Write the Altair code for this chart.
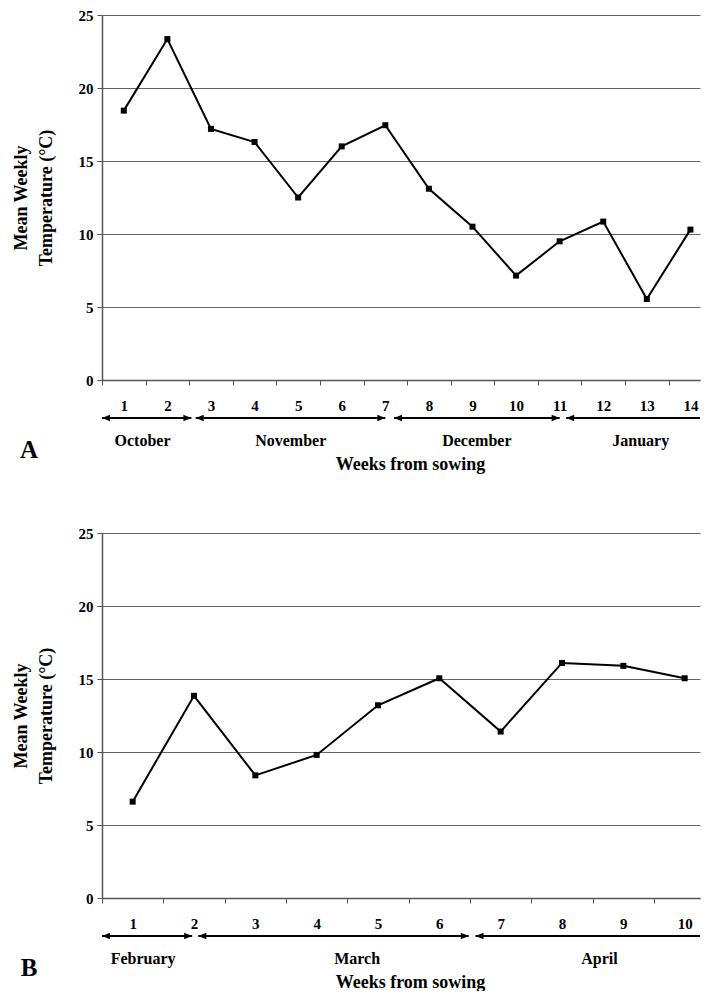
import altair as alt
import pandas as pd

# ---------------- data ----------------
# Panel A: weekly mean temperature, October - January
weeks_a = list(range(1, 15))
temps_a = [18.45, 23.35, 17.2, 16.3, 12.5, 16.0, 17.45, 13.1, 10.5, 7.15, 9.5, 10.85, 5.55, 10.3]
months_a = ["October", "November", "December", "January"]
month_start_a = [0.5, 2.65, 7.2, 11.15]
month_end_a = [2.55, 7.0, 11.0, 14.22]
month_label_a = [1.43, 4.83, 9.1, 12.86]
month_head_a = [True, True, True, False]

# Panel B: weekly mean temperature, February - April
weeks_b = list(range(1, 11))
temps_b = [6.6, 13.85, 8.4, 9.8, 13.2, 15.05, 11.4, 16.1, 15.9, 15.05]
months_b = ["February", "March", "April"]
month_start_b = [0.5, 2.07, 6.59]
month_end_b = [1.97, 6.48, 10.25]
month_label_b = [1.17, 4.66, 8.61]
month_head_b = [True, True, False]

y_ticks = [0, 5, 10, 15, 20, 25]
y_title = ["Mean Weekly", "Temperature (°C)"]
x_title = "Weeks from sowing"

# ---------------- layout / style ----------------
FONT = "Liberation Serif"
W = 598
H = 365
X_MAX_A = 14.22   # visible right end of panel A (picture is cut there)
X_MAX_B = 10.25   # visible right end of panel B
ARROW_Y = H + 38
MONTH_Y = H + 61
TAG_Y = H + 78
TAG_X = -73

LEFT_HEAD = "M0,0L2,-0.8L2,0.8Z"
RIGHT_HEAD = "M0,0L-2,-0.8L-2,0.8Z"

AXIS_STYLE = dict(
    domainColor="#555555",
    domainWidth=1.5,
    tickColor="#555555",
    tickWidth=1,
    tickSize=5,
    gridColor="#666666",
    gridWidth=1,
    labelFont=FONT,
    labelFontWeight="bold",
    labelFontSize=15,
    labelColor="black",
    titleFont=FONT,
    titleFontWeight="bold",
    titleFontSize=18,
    titleColor="black",
)


def panel(weeks, temps, months, mstart, mend, mlabel, mhead, xmax, tag):
    spacing = W / (xmax - 0.5)
    xscale = alt.Scale(domain=[0.5, xmax], nice=False, zero=False)
    yscale = alt.Scale(domain=[0, 25], nice=False, zero=True)
    df = pd.DataFrame({"week": weeks, "temp": temps})

    x_enc = alt.X(
        "week:Q",
        scale=xscale,
        title=x_title,
        axis=alt.Axis(
            values=weeks,
            format="d",
            tickOffset=-spacing / 2,
            labelOffset=spacing / 2,
            grid=False,
            labelPadding=13,
            titlePadding=42,
            titleX=W / 2 + 9,
            **AXIS_STYLE,
        ),
    )
    y_enc = alt.Y(
        "temp:Q",
        scale=yscale,
        title=y_title,
        axis=alt.Axis(
            values=y_ticks,
            format="d",
            grid=True,
            labelPadding=4,
            titlePadding=23,
            titleLineHeight=25,
            **AXIS_STYLE,
        ),
    )

    line = alt.Chart(df).mark_line(color="black", strokeWidth=2).encode(x=x_enc, y=y_enc)
    pts = alt.Chart(df).mark_point(
        shape="square", filled=True, color="black", size=36, opacity=1
    ).encode(x="week:Q", y="temp:Q")

    mdf = pd.DataFrame(
        {"month": months, "start": mstart, "end": mend, "label_x": mlabel, "head": mhead}
    )
    shafts = alt.Chart(mdf).mark_rule(color="black", strokeWidth=2).encode(
        x="start:Q", x2="end:Q", y=alt.value(ARROW_Y)
    )
    lheads = alt.Chart(mdf).mark_point(
        shape=LEFT_HEAD, filled=True, color="black", size=64, opacity=1, strokeWidth=0
    ).encode(x="start:Q", y=alt.value(ARROW_Y))
    rheads = alt.Chart(mdf).transform_filter("datum.head").mark_point(
        shape=RIGHT_HEAD, filled=True, color="black", size=64, opacity=1, strokeWidth=0
    ).encode(x="end:Q", y=alt.value(ARROW_Y))
    mlabels = alt.Chart(mdf).mark_text(
        font=FONT, fontWeight="bold", fontSize=16, baseline="middle", align="center", color="black"
    ).encode(x="label_x:Q", y=alt.value(MONTH_Y), text="month:N")

    tdf = pd.DataFrame({"tag": [tag]})
    tagm = alt.Chart(tdf).mark_text(
        font=FONT, fontWeight="bold", fontSize=25, baseline="alphabetic", align="center", color="black"
    ).encode(x=alt.value(TAG_X), y=alt.value(TAG_Y), text="tag:N")

    return alt.layer(line, pts, shafts, lheads, rheads, mlabels, tagm).properties(width=W, height=H)


top = panel(weeks_a, temps_a, months_a, month_start_a, month_end_a, month_label_a,
            month_head_a, X_MAX_A, "A")
bottom = panel(weeks_b, temps_b, months_b, month_start_b, month_end_b, month_label_b,
               month_head_b, X_MAX_B, "B")

chart = (
    alt.vconcat(top, bottom, spacing=53)
    .properties(padding={"left": 4, "top": 0, "right": 0, "bottom": 0}, background="white")
    .configure(font=FONT)
    .configure_view(stroke=None)
)

chart.save("out.html", embed_options={"renderer": "svg", "actions": False})
